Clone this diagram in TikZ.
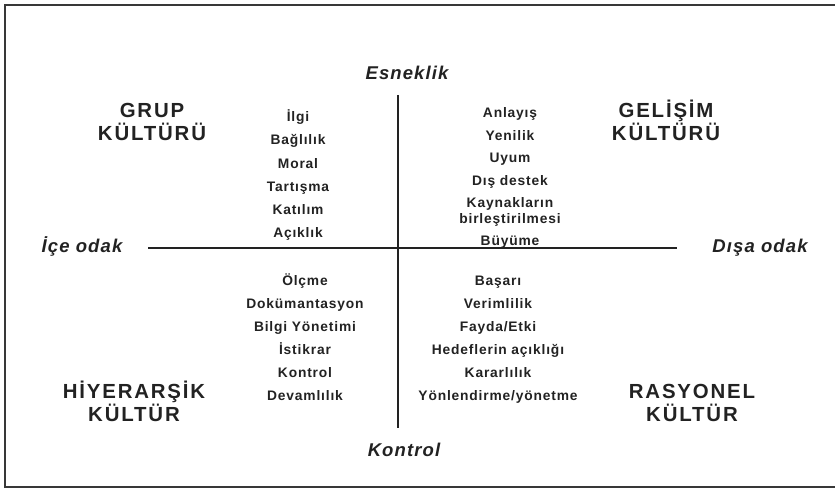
\documentclass[tikz,border=0pt]{standalone}
\usepackage{fontspec}
\setmainfont{Liberation Sans}
\newfontfamily\itemfont[LetterSpace=6]{Liberation Sans}
\newfontfamily\titlefont[LetterSpace=9]{Liberation Sans}
\usepackage{tikz}
\usetikzlibrary{positioning,calc}
\definecolor{ink}{HTML}{222222}

\tikzset{
    item/.style={font=\itemfont\bfseries\fontsize{13.8}{16}\selectfont, text=ink, inner sep=0pt, align=center, anchor=base},
    culture/.style={font=\titlefont\bfseries\fontsize{20.4}{23.5}\selectfont, text=ink, inner sep=0pt, align=center, anchor=base},
    axislabel/.style={font=\itemfont\bfseries\itshape\fontsize{18.5}{20}\selectfont, text=ink, inner sep=0pt, anchor=base},
    axis/.style={line width=2.8pt, ink}
}

\begin{document}
\begin{tikzpicture}[x=1pt, y=-1pt]
    \useasboundingbox (0,0) rectangle (835,492);
    % Frame (right side is cut off)
    \draw[line width=2.4pt, ink!90] (845,5) -- (5,5) -- (5,487) -- (845,487);

    % Axes
    \coordinate (top) at (398,95);
    \coordinate (bottom) at (398,428);
    \coordinate (left) at (148,248);
    \coordinate (right) at (677,248);
    \draw[axis] (top) -- (bottom);
    \draw[axis] (left) -- (right);

    % Axis labels
    \node[axislabel] (flex) at (407,79.5) {Esneklik};
    \node[axislabel] (ctrl) at (404,456) {Kontrol};
    \node[axislabel] (inner) at (82,252.5) {İçe odak};
    \node[axislabel] (outer) at (760,252.5) {Dışa odak};

    % Cultures (base = last line)
    \node[culture] (grup) at (152,140.5) {GRUP\\KÜLTÜRÜ};
    \node[culture] (gelisim) at (666,140.5) {GELİŞİM\\KÜLTÜRÜ};
    \node[culture] (hiyerarsi) at (134,421.5) {HİYERARŞİK\\KÜLTÜR};
    \node[culture] (rasyonel) at (692,421.5) {RASYONEL\\KÜLTÜR};

    % Values per quadrant
    \foreach \t [count=\i] in {İlgi, Bağlılık, Moral, Tartışma, Katılım, Açıklık}
        \node[item] (gv\i) at (298,122+23*\i-23) {\t};
    \foreach \t/\y [count=\i] in {Anlayış/118, Yenilik/140, Uyum/162, Dış destek/185, Kaynakların\\birleştirilmesi/223, Büyüme/245}
        \node[item] (dv\i) at (510,\y) {\t};
    \foreach \t [count=\i] in {Ölçme, Dokümantasyon, Bilgi Yönetimi, İstikrar, Kontrol, Devamlılık}
        \node[item] (hv\i) at (305,285+23*\i-23) {\t};
    \foreach \t [count=\i] in {Başarı, Verimlilik, Fayda/Etki, Hedeflerin açıklığı, Kararlılık, Yönlendirme/yönetme}
        \node[item] (rv\i) at (498,285+23*\i-23) {\t};
\end{tikzpicture}
\end{document}
